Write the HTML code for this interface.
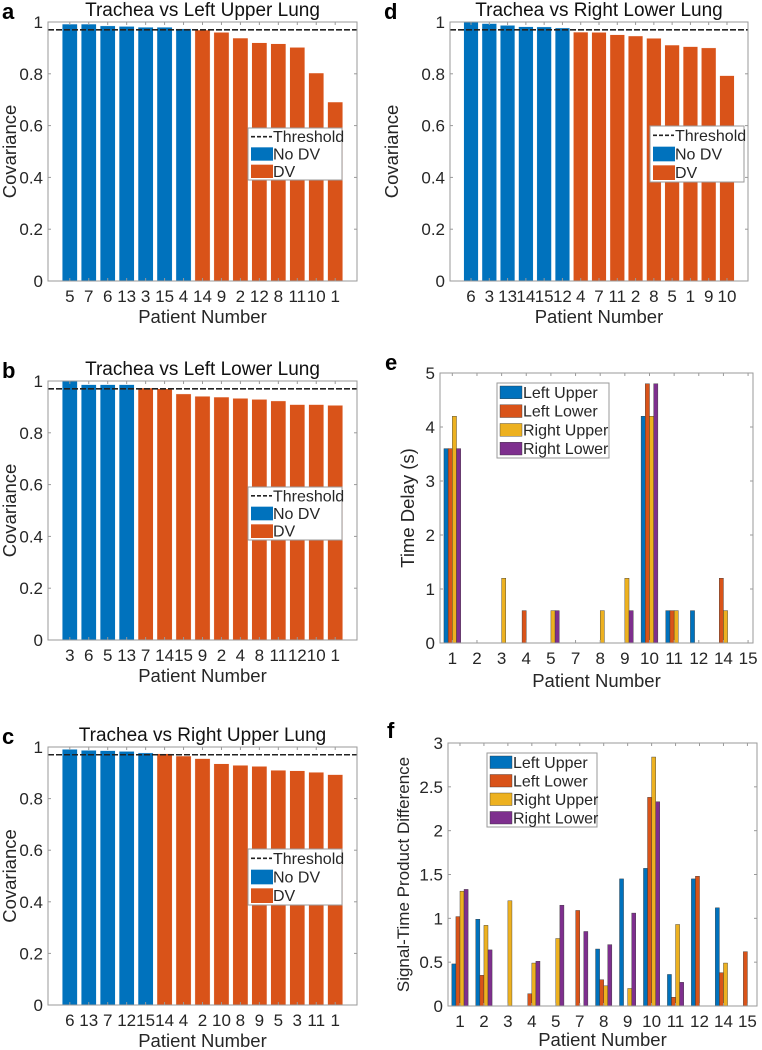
<!DOCTYPE html>
<html><head><meta charset="utf-8"><style>
body{margin:0;background:#fff}
svg{display:block;font-family:"Liberation Sans",Arial,sans-serif}
</style></head><body>
<svg id="fig" width="762" height="1050" viewBox="0 0 762 1050"></svg>
<script>
// ---- Data ----
const catsA = ['5','7','6','13','3','15','4','14','9','2','12','8','11','10','1'];
const valsA = [0.992,0.992,0.985,0.983,0.98,0.98,0.974,0.969,0.96,0.938,0.92,0.916,0.902,0.803,0.691];
const nodvA = 7;
const catsB = ['3','6','5','13','7','14','15','9','2','4','8','11','12','10','1'];
const valsB = [1.0,0.986,0.986,0.986,0.973,0.97,0.95,0.941,0.938,0.933,0.929,0.923,0.909,0.909,0.906];
const nodvB = 4;
const catsC = ['6','13','7','12','15','14','4','2','10','8','9','5','3','11','1'];
const valsC = [0.991,0.987,0.986,0.983,0.977,0.974,0.965,0.955,0.935,0.929,0.925,0.91,0.908,0.902,0.893];
const nodvC = 5;
const catsD = ['6','3','13','14','15','12','4','7','11','2','8','5','1','9','10'];
const valsD = [1.0,0.994,0.987,0.982,0.981,0.977,0.961,0.96,0.951,0.946,0.937,0.911,0.905,0.9,0.793];
const nodvD = 6;
const threshold = 0.97;
const covTicks = [0,0.2,0.4,0.6,0.8,1];

const patients = ['1','2','3','4','5','7','8','9','10','11','12','14','15'];
const seriesNames = ['Left Upper','Left Lower','Right Upper','Right Lower'];
const delayLU = [3.6,0,0,0,0,0,0,0,4.2,0.6,0.6,0,0];
const delayLL = [3.6,0,0,0.6,0,0,0,0,4.8,0.6,0,1.2,0];
const delayRU = [4.2,0,1.2,0,0.6,0,0.6,1.2,4.2,0.6,0,0.6,0];
const delayRL = [3.6,0,0,0,0.6,0,0,0.6,4.8,0,0,0,0];
const delayTicks = [0,1,2,3,4,5];
const stpLU = [0.48,0.99,0,0,0,0,0.65,1.45,1.57,0.36,1.45,1.12,0];
const stpLL = [1.02,0.35,0,0.14,0,1.09,0.30,0,2.38,0.10,1.48,0.38,0.62];
const stpRU = [1.31,0.92,1.20,0.49,0.77,0,0.23,0.20,2.84,0.93,0,0.49,0];
const stpRL = [1.33,0.64,0,0.51,1.15,0.85,0.70,1.06,2.33,0.27,0,0,0];
const stpTicks = [0,0.5,1,1.5,2,2.5,3];
const stpTickLabels = ['0','0.5','1','1.5','2','2.5','3'];

const COLORS = ['#0072BD','#D95319','#EDB120','#7E2F8E'];
const NS = 'http://www.w3.org/2000/svg';
const svg = document.getElementById('fig');
function mk(tag, attrs, parent){const e=document.createElementNS(NS,tag);for(const k in attrs)e.setAttribute(k,attrs[k]);(parent||svg).appendChild(e);return e;}
function txt(x,y,s,attrs,parent){const t=mk('text',Object.assign({x:x,y:y,fill:'#262626','font-size':14},attrs||{}),parent);t.textContent=s;return t;}

const TICK_FS=17, LABEL_FS=18.5, TITLE_FS=19, LEG_FS=16;

function axesFrame(g,L,R,T,B,ticks,tickLabels,yx,ytitle,ytOff,xlabels,xx,xlabelY,ytFs){
  mk('rect',{x:L,y:T,width:R-L,height:B-T,fill:'#fff',stroke:'none'},g);
  return function finish(){
    const f=mk('rect',{x:L,y:T,width:R-L,height:B-T,fill:'none',stroke:'#9a9a9a','stroke-width':1},g);
    
    ticks.forEach((v,i)=>{
      const y=yx(v);
      mk('line',{x1:L,x2:L+3,y1:y,y2:y,stroke:'#9a9a9a'},g);
      mk('line',{x1:R-3,x2:R,y1:y,y2:y,stroke:'#9a9a9a'},g);
      const t=txt(L-5,y+6,tickLabels[i],{'text-anchor':'end','font-size':TICK_FS},g);
      
    });
    xlabels.forEach((s,i)=>{
      const x=xx(i);
      mk('line',{x1:x,x2:x,y1:B,y2:B-3,stroke:'#9a9a9a'},g);
      mk('line',{x1:x,x2:x,y1:T,y2:T+3,stroke:'#9a9a9a'},g);
      const t=txt(x,B+21,s,{'text-anchor':'middle','font-size':TICK_FS},g);
      
    });
    const xt=txt((L+R)/2,xlabelY,'Patient Number',{'text-anchor':'middle','font-size':LABEL_FS},g);
    
    const cy=(T+B)/2, cx=L-ytOff;
    const yt=txt(cx,cy,ytitle,{'text-anchor':'middle','font-size':ytFs||LABEL_FS,transform:'rotate(-90 '+cx+' '+cy+')'},g);
    
  };
}

function covPanel(letter,title,cats,vals,nodv,L,R,T,B,leg,lx0){
  const g=mk('g',{});
  
  const x0=-0.15,x1=16.15;
  const xx=i=>L+(i+1-x0)/(x1-x0)*(R-L);
  const yx=v=>B-v*(B-T);
  const fin=axesFrame(g,L,R,T,B,covTicks,covTicks.map(String),yx,'Covariance',L-lx0-14,cats,xx,B+42);
  const bw=0.8*(R-L)/(x1-x0);
  vals.forEach((v,i)=>{
    const r=mk('rect',{x:xx(i)-bw/2,y:yx(v),width:bw,height:B-yx(v),fill:i<nodv?COLORS[0]:COLORS[1],stroke:'#fff','stroke-width':0.4},g);
    
  });
  const th=mk('line',{x1:L,x2:R,y1:yx(threshold),y2:yx(threshold),stroke:'#222','stroke-width':1.6,'stroke-dasharray':'6,2'},g);
  
  fin();
  const t=txt((L+R)/2,T-6,title,{'text-anchor':'middle','font-size':TITLE_FS,fill:'#111'},g);
  
  const lt=txt(lx0,T-3,letter,{'font-size':22,'font-weight':'bold',fill:'#000'},g);
  
  const lg=mk('g',{},g);
  
  const [lx,ly,lw,lh]=leg;
  mk('rect',{x:lx,y:ly,width:lw,height:lh,fill:'#fff',stroke:'#9a9a9a'},lg);
  const rh=lh/3;
  mk('line',{x1:lx+3,x2:lx+24,y1:ly+rh*0.5,y2:ly+rh*0.5,stroke:'#222','stroke-width':1.6,'stroke-dasharray':'4,2'},lg);
  const e1=txt(lx+25,ly+rh*0.5+5.5,'Threshold',{'font-size':LEG_FS},lg);
  
  mk('rect',{x:lx+3,y:ly+rh+2,width:22,height:rh-4,fill:COLORS[0]},lg);
  const e2=txt(lx+25,ly+rh*1.5+5.5,'No DV',{'font-size':LEG_FS},lg);
  
  mk('rect',{x:lx+3,y:ly+2*rh+2,width:22,height:rh-4,fill:COLORS[1]},lg);
  const e3=txt(lx+25,ly+rh*2.5+5.5,'DV',{'font-size':LEG_FS},lg);
  
}

function groupPanel(letter,ytitle,ytOff,ytFs,series,ticks,tickLabels,ymax,L,R,T,B,x0,x1,leg,lpos,xlY){
  const g=mk('g',{});
  
  const xx=i=>L+(i+1-x0)/(x1-x0)*(R-L);
  const yx=v=>B-v/ymax*(B-T);
  const fin=axesFrame(g,L,R,T,B,ticks,tickLabels,yx,ytitle,ytOff,patients,xx,B+xlY,ytFs);
  const step=(R-L)/(x1-x0);
  const bw=step*0.17;
  series.forEach((vals,s)=>{
    vals.forEach((v,i)=>{
      const cx=xx(i)+(s-1.5)*bw;
      const r=mk('rect',{x:cx-bw/2,y:yx(v),width:bw,height:B-yx(v),fill:COLORS[s],stroke:'#333','stroke-width':0.4},g);
      
      
    });
  });
  fin();
  const lt=txt(lpos[0],lpos[1],letter,{'font-size':22,'font-weight':'bold',fill:'#000'},g);
  
  const lg=mk('g',{},g);
  
  const [lx,ly,lw,lh]=leg;
  mk('rect',{x:lx,y:ly,width:lw,height:lh,fill:'#fff',stroke:'#9a9a9a'},lg);
  const rh=lh/4;
  seriesNames.forEach((n,s)=>{
    mk('rect',{x:lx+3,y:ly+s*rh+3,width:22,height:rh-6,fill:COLORS[s],stroke:'#333','stroke-width':0.4},lg);
    const e=txt(lx+26,ly+s*rh+rh/2+5.5,n,{'font-size':LEG_FS},lg);
    
  });
}

covPanel('a','Trachea vs Left Upper Lung',catsA,valsA,nodvA,48,357,22,281,[248,128,94,52],2);
covPanel('b','Trachea vs Left Lower Lung',catsB,valsB,nodvB,48,357,381,640,[248,487,94,53],2);
covPanel('c','Trachea vs Right Upper Lung',catsC,valsC,nodvC,48,357,747,1005,[248,849,94,56],2);
covPanel('d','Trachea vs Right Lower Lung',catsD,valsD,nodvD,450,748,22,281,[650,126,94,56],384);
groupPanel('e','Time Delay (s)',26,LABEL_FS,[delayLU,delayLL,delayRU,delayRL],delayTicks,delayTicks.map(String),5,440,753,373,643,0.5,13.2,[497,383,112,75],[385,370],44);
groupPanel('f','Signal-Time Product Difference',39,17,[stpLU,stpLL,stpRU,stpRL],stpTicks,stpTickLabels,3,448,757,743,1006,0.5,13.4,[487,753,110,74],[387,738],40);
</script>
</body></html>
